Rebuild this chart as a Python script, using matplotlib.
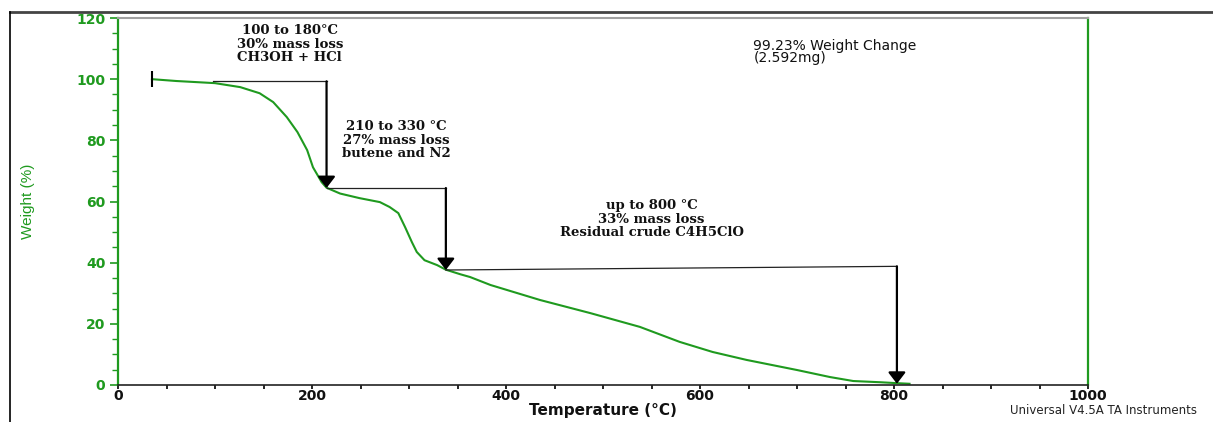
import numpy as np
import matplotlib.pyplot as plt
from matplotlib.lines import Line2D
from matplotlib.ticker import MultipleLocator

# TGA curve: temperature (°C) vs weight (%)
temp = [35, 60, 100, 126, 146, 160, 174, 185, 195, 201, 210, 215, 229, 249,
        270, 280, 289, 296, 303, 308, 316, 329, 338, 353, 363, 384, 435, 487,
        538, 579, 613, 648, 700, 734, 758, 786, 803, 816]
weight = [100, 99.4, 98.7, 97.4, 95.4, 92.5, 87.6, 82.7, 76.8, 71.2, 66.3,
          64.5, 62.6, 61.1, 59.8, 58.2, 56.2, 51.6, 46.7, 43.5, 40.8, 39.2,
          37.7, 36.2, 35.3, 32.7, 27.8, 23.5, 19, 14.1, 10.8, 8.2, 4.9, 2.6,
          1.3, 0.9, 0.6, 0.4]

# step markers (horizontal run then arrow down)
step1_x = [98, 215, 215]
step1_y = [99.3, 99.3, 64.4]
step2_x = [215, 338, 338]
step2_y = [64.4, 64.4, 37.6]
step3_x = [338, 803, 803]
step3_y = [37.6, 38.8, 0.4]

step_labels = ["100 to 180°C\n30% mass loss\nCH3OH + HCl",
               "210 to 330 °C\n27% mass loss\nbutene and N2",
               "up to 800 °C\n33% mass loss\nResidual crude C4H5ClO"]
label_pos = [(177, 111.4), (287, 80), (550, 54.2)]

green = '#1f9a1f'

fig = plt.figure(figsize=(12.13, 4.22), dpi=100)
ax = fig.add_axes([118/1213, 1-385/422, 970/1213, 367/422])

ax.plot(temp, weight, color=green, lw=1.5)
ax.plot(temp[0], weight[0], marker='|', color='k', ms=12, mew=1.5)

for sx, sy in [(step1_x, step1_y), (step2_x, step2_y), (step3_x, step3_y)]:
    ax.plot(sx[:2], sy[:2], color='#222222', lw=0.9)
    ax.annotate('', xy=(sx[2], sy[2]), xytext=(sx[1], sy[1]),
                arrowprops=dict(arrowstyle='-|>,head_width=0.42,head_length=0.55',
                                color='k', lw=1.6, mutation_scale=12.5,
                                shrinkA=0, shrinkB=0))

for txt, (x, y) in zip(step_labels, label_pos):
    ax.text(x, y, txt, ha='center', va='center', multialignment='center',
            family='DejaVu Serif', fontsize=9.5, fontweight='bold',
            linespacing=1.05, color='#111111')

ax.text(655, 113, "99.23% Weight Change\n(2.592mg)", ha='left', va='top',
        family='DejaVu Sans', fontsize=10, linespacing=0.75, color='#111111')

ax.set_xlim(0, 1000)
ax.set_ylim(0, 120)
ax.xaxis.set_major_locator(MultipleLocator(200))
ax.xaxis.set_minor_locator(MultipleLocator(50))
ax.yaxis.set_major_locator(MultipleLocator(20))
ax.yaxis.set_minor_locator(MultipleLocator(5))

ax.tick_params(axis='x', which='major', length=3, width=1.2, color='k',
               labelsize=10, labelcolor='#111111', pad=0)
ax.tick_params(axis='x', which='minor', length=3, width=1.2, color='k')
ax.tick_params(axis='y', which='major', length=6, width=1.2, color=green,
               labelsize=10, labelcolor=green, pad=3)
ax.tick_params(axis='y', which='minor', length=4, width=1.0, color=green)
for lab in ax.get_xticklabels() + ax.get_yticklabels():
    lab.set_family('DejaVu Sans')
    lab.set_fontweight('bold')

ax.spines['left'].set_color(green)
ax.spines['left'].set_linewidth(1.6)
ax.spines['right'].set_color(green)
ax.spines['right'].set_linewidth(1.6)
ax.spines['top'].set_color('#a0a0a0')
ax.spines['top'].set_linewidth(1.5)
ax.spines['bottom'].set_color('#222222')
ax.spines['bottom'].set_linewidth(1.2)

ax.set_xlabel("Temperature (°C)", family='DejaVu Sans', fontsize=11,
              fontweight='bold', color='#111111', labelpad=0)
ax.set_ylabel("Weight (%)", family='Liberation Sans', fontsize=11,
              color=green)
ax.yaxis.set_label_coords(-0.0856, 0.5)

fig.text(1197/1213, 1-410/422, "Universal V4.5A TA Instruments", ha='right',
         va='center', family='DejaVu Sans', fontsize=8.5, color='#222222')

# outer frame lines
fig.add_artist(Line2D([10/1213, 1], [1-12/422, 1-12/422], color='#444444', lw=2))
fig.add_artist(Line2D([10/1213, 10/1213], [0, 1-12/422], color='k', lw=1.2))

fig.savefig('out.png', dpi=100)
